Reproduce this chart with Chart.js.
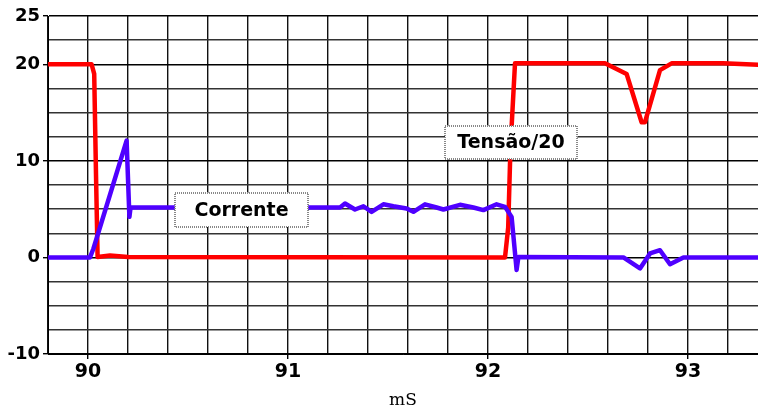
<!DOCTYPE html>
<html>
<head>
<meta charset="utf-8">
<script src="https://cdn.jsdelivr.net/npm/chart.js@4.4.1/dist/chart.umd.min.js"></script>
<style>
  html, body { margin: 0; padding: 0; background: #fff; }
  #wrap { width: 758px; height: 407px; }
</style>
</head>
<body>
<div id="wrap"><canvas id="c" width="758" height="407"></canvas></div>
<script>
// Time (ms) and values for "Tensão/20" (red)
const tTensao = [89.8, 90.018, 90.031, 90.04, 90.048, 90.11, 90.2, 92.085, 92.101, 92.11, 92.119, 92.135, 92.585, 92.693, 92.768, 92.785, 92.86, 92.918, 93.175, 93.35];
const vTensao = [20, 20, 19.0, 8.6, 0.05, 0.2, 0.05, 0, 3.1, 9.7, 13.9, 20.1, 20.1, 19.0, 14.0, 14.0, 19.4, 20.1, 20.1, 19.95];

// Time (ms) and values for "Corrente" (blue)
const tCorrente = [89.8, 90.01, 90.027, 90.193, 90.207, 90.213, 91.26, 91.285, 91.335, 91.377, 91.418, 91.477, 91.527, 91.593, 91.627, 91.685, 91.743, 91.777, 91.86, 91.927, 91.977, 92.043, 92.085, 92.118, 92.143, 92.152, 92.677, 92.76, 92.81, 92.86, 92.91, 92.977, 93.35];
const vCorrente = [0, 0, 0.9, 12.1, 4.2, 5.2, 5.17, 5.58, 4.96, 5.3, 4.72, 5.5, 5.3, 5.07, 4.72, 5.5, 5.17, 4.96, 5.45, 5.17, 4.9, 5.5, 5.24, 4.2, -1.3, 0.05, 0, -1.14, 0.41, 0.75, -0.7, 0, 0];

// Axis tick values and the ones that carry labels
const xTickValues = [89.8, 90.0, 90.2, 90.4, 90.6, 90.8, 91.0, 91.2, 91.4, 91.6, 91.8, 92.0, 92.2, 92.4, 92.6, 92.8, 93.0, 93.2];
const xTickLabels = [90, 91, 92, 93];
const yTickValues = [-10, -7.5, -5, -2.5, 0, 2.5, 5, 7.5, 10, 12.5, 15, 17.5, 20, 22.5, 25];
const yTickLabels = [-10, 0, 10, 20, 25];

const seriesNames = ['Tensão/20', 'Corrente'];

const toXY = (xs, ys) => xs.map((x, i) => ({ x: x, y: ys[i] }));
const isLabeled = (v, list) => list.some(l => Math.abs(l - v) < 1e-6);

const boxLabels = {
  id: 'boxLabels',
  afterDatasetsDraw(chart, args, opts) {
    const ctx = chart.ctx;
    const xs = chart.scales.x, ys = chart.scales.y;
    opts.items.forEach(it => {
      const cx = xs.getPixelForValue(it.x);
      const cy = ys.getPixelForValue(it.y);
      const x0 = Math.round(cx - it.w / 2), y0 = Math.round(cy - it.h / 2);
      ctx.save();
      ctx.fillStyle = '#ffffff';
      ctx.fillRect(x0, y0, it.w, it.h);
      ctx.strokeStyle = '#888';
      ctx.lineWidth = 2;
      ctx.setLineDash([1, 1]);
      ctx.strokeRect(x0, y0, it.w, it.h);
      ctx.setLineDash([]);
      ctx.fillStyle = '#000';
      ctx.font = 'bold 19px "DejaVu Sans"';
      ctx.textAlign = 'center';
      ctx.textBaseline = 'middle';
      ctx.fillText(it.text, cx, cy + 1);
      ctx.restore();
    });
  }
};

new Chart(document.getElementById('c'), {
  type: 'line',
  data: {
    datasets: [
      {
        label: seriesNames[1],
        data: toXY(tCorrente, vCorrente),
        borderColor: '#4f00ff',
        borderWidth: 4.5,
        pointRadius: 0,
        tension: 0,
        borderJoinStyle: 'round',
        borderCapStyle: 'round',
        fill: false
      },
      {
        label: seriesNames[0],
        data: toXY(tTensao, vTensao),
        borderColor: '#ff0000',
        borderWidth: 4.5,
        pointRadius: 0,
        tension: 0,
        borderJoinStyle: 'round',
        borderCapStyle: 'round',
        fill: false
      }
    ]
  },
  options: {
    responsive: false,
    animation: false,
    layout: { padding: { top: 16, right: 0, bottom: 0, left: 0 } },
    plugins: {
      legend: { display: false },
      tooltip: { enabled: false },
      boxLabels: {
        items: [
          { text: seriesNames[1], x: 90.7675, y: 4.9, w: 133, h: 34 },
          { text: seriesNames[0], x: 92.115, y: 11.95, w: 132, h: 33 }
        ]
      }
    },
    scales: {
      x: {
        type: 'linear',
        min: 89.8,
        max: 93.35,
        afterBuildTicks: (s) => { s.ticks = xTickValues.map(v => ({ value: v })); },
        afterFit: (s) => { s.height = 53; },
        ticks: {
          autoSkip: false,
          maxRotation: 0,
          padding: 2,
          color: '#000',
          font: { family: 'DejaVu Sans', size: 19, weight: 'bold' },
          callback: (v) => isLabeled(v, xTickLabels) ? String(Math.round(v)) : ''
        },
        grid: {
          color: '#111',
          lineWidth: 1.4,
          tickLength: 5,
          tickColor: (c) => isLabeled(c.tick.value, xTickLabels) ? '#000' : 'rgba(0,0,0,0)'
        },
        border: { display: true, color: '#000', width: 1 },
        title: {
          display: true,
          text: 'mS',
          color: '#000',
          font: { family: 'DejaVu Serif', size: 17, weight: 'normal' },
          padding: { top: 0, bottom: -4 }
        }
      },
      y: {
        type: 'linear',
        min: -10,
        max: 25,
        afterBuildTicks: (s) => { s.ticks = yTickValues.map(v => ({ value: v })); },
        afterFit: (s) => { s.width = 48; },
        ticks: {
          autoSkip: false,
          padding: 3,
          color: '#000',
          font: { family: 'DejaVu Sans', size: 18, weight: 'bold' },
          callback: (v) => isLabeled(v, yTickLabels) ? String(v) : ''
        },
        grid: {
          color: (c) => isLabeled(c.tick.value, yTickLabels) ? '#000' : '#333',
          lineWidth: 1.4,
          tickLength: 5,
          tickColor: (c) => isLabeled(c.tick.value, yTickLabels) ? '#000' : 'rgba(0,0,0,0)'
        },
        border: { display: true, color: '#000', width: 1 }
      }
    }
  },
  plugins: [boxLabels]
});
</script>
</body>
</html>
